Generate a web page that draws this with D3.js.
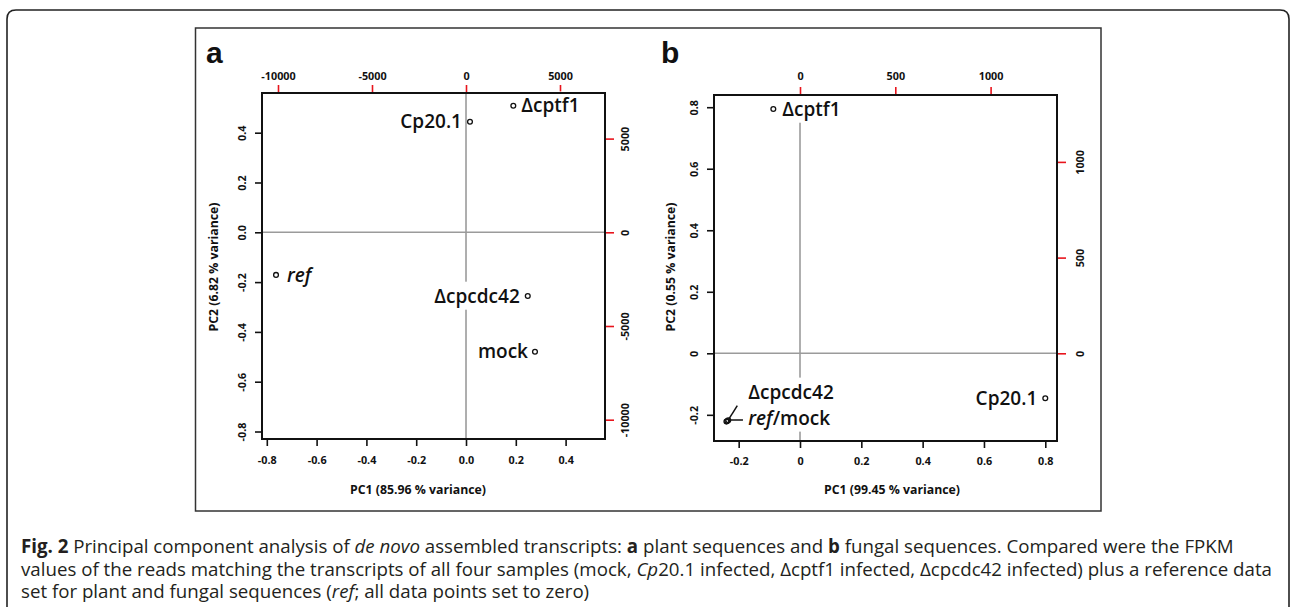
<!DOCTYPE html>
<html><head><meta charset="utf-8">
<script src="https://cdn.jsdelivr.net/npm/d3@7"></script>
<style>
body{margin:0;background:#fff}
svg{display:block}
.tick text{font-family:"Open Sans",sans-serif;font-weight:700;font-size:10.8px;fill:#111}
</style>
</head><body>
<svg id="c" width="1290" height="607"></svg>
<script>
// ---------- data ----------
const samplesA = ["Δcptf1", "Cp20.1", "ref", "Δcpcdc42", "mock"];
const pc1A = [0.190, 0.016, -0.763, 0.248, 0.277];
const pc2A = [0.508, 0.444, -0.171, -0.256, -0.480];

const samplesB = ["Δcptf1", "Cp20.1", "ref", "mock", "Δcpcdc42"];
const pc1B = [-0.087, 0.800, -0.240, -0.237, -0.234];
const pc2B = [0.794, -0.146, -0.222, -0.220, -0.218];

const xTicksA = [-0.8, -0.6, -0.4, -0.2, 0, 0.2, 0.4];
const xTickLabelsA = ["-0.8", "-0.6", "-0.4", "-0.2", "0.0", "0.2", "0.4"];
const yTicksA = [-0.8, -0.6, -0.4, -0.2, 0, 0.2, 0.4];
const yTickLabelsA = ["-0.8", "-0.6", "-0.4", "-0.2", "0.0", "0.2", "0.4"];
const topTicksA = [-10000, -5000, 0, 5000];
const rightTicksA = [-10000, -5000, 0, 5000];

const xTicksB = [-0.2, 0, 0.2, 0.4, 0.6, 0.8];
const xTickLabelsB = ["-0.2", "0", "0.2", "0.4", "0.6", "0.8"];
const yTicksB = [-0.2, 0, 0.2, 0.4, 0.6, 0.8];
const yTickLabelsB = ["-0.2", "0", "0.2", "0.4", "0.6", "0.8"];
const topTicksB = [0, 500, 1000];
const rightTicksB = [0, 500, 1000];

const xTitleA = "PC1 (85.96 % variance)";
const yTitleA = "PC2 (6.82 % variance)";
const xTitleB = "PC1 (99.45 % variance)";
const yTitleB = "PC2 (0.55 % variance)";

// ---------- layout ----------
const svg = d3.select("#c");
const RED = "#e8141c";
const LABEL_FONT = '"Open Sans", sans-serif';
const plainInt = d => String(d);

// outer rounded frame (open at bottom)
svg.append("path")
  .attr("d", "M7,612 L7,19 Q7,10 16,10 L1280,10 Q1289,10 1289,19 L1289,612")
  .attr("fill", "none").attr("stroke", "#222").attr("stroke-width", 1.6);

// figure box
svg.append("rect").attr("x", 195.5).attr("y", 28).attr("width", 905.5).attr("height", 483)
  .attr("fill", "#fff").attr("stroke", "#333").attr("stroke-width", 1.5);

function panel(cfg) {
  const g = svg.append("g");
  const x = d3.scaleLinear().domain(cfg.xDomain).range([cfg.left, cfg.right]);
  const y = d3.scaleLinear().domain(cfg.yDomain).range([cfg.bottom, cfg.top]);
  const xt = d3.scaleLinear().domain(cfg.topDomain).range([cfg.left, cfg.right]);
  const yr = d3.scaleLinear().domain(cfg.rightDomain).range([cfg.bottom, cfg.top]);

  // reference lines
  g.append("line").attr("x1", cfg.left).attr("x2", cfg.right).attr("y1", y(0)).attr("y2", y(0))
    .attr("stroke", "#9b9b9b").attr("stroke-width", 1.6);
  g.append("line").attr("x1", x(0)).attr("x2", x(0)).attr("y1", cfg.top).attr("y2", cfg.bottom)
    .attr("stroke", "#9b9b9b").attr("stroke-width", 1.6);

  // axes
  const bottom = g.append("g").attr("transform", `translate(0,${cfg.bottom})`)
    .call(d3.axisBottom(x).tickValues(cfg.xTicks).tickFormat((d, i) => cfg.xTickLabels[i]).tickSize(7).tickPadding(0));
  bottom.selectAll("text").attr("y", cfg.bottomLabelOff).attr("dy", "0.35em");
  const left = g.append("g").attr("transform", `translate(${cfg.left},0)`)
    .call(d3.axisLeft(y).tickValues(cfg.yTicks).tickFormat((d, i) => cfg.yTickLabels[i]).tickSize(7));
  left.selectAll("text").attr("transform", "rotate(-90)").attr("x", 0).attr("y", -cfg.leftLabelOff)
    .attr("dy", "0.35em").attr("text-anchor", "middle");
  const top = g.append("g").attr("transform", `translate(0,${cfg.top})`)
    .call(d3.axisTop(xt).tickValues(cfg.topTicks).tickFormat(plainInt).tickSize(8));
  top.selectAll("text").attr("y", -cfg.topLabelOff).attr("dy", "0.35em");
  const right = g.append("g").attr("transform", `translate(${cfg.right},0)`)
    .call(d3.axisRight(yr).tickValues(cfg.rightTicks).tickFormat(plainInt).tickSize(9));
  right.selectAll("text").attr("transform", "rotate(-90)").attr("x", 0).attr("y", cfg.rightLabelOff)
    .attr("dy", "0.35em").attr("text-anchor", "middle");
  [bottom, left, top, right].forEach(a => a.select(".domain").remove());
  [bottom, left].forEach(a => a.selectAll("line").attr("stroke", "#111").attr("stroke-width", 1.6));
  [top, right].forEach(a => a.selectAll("line").attr("stroke", RED).attr("stroke-width", 1.6));

  // plot box (raised to the top later)
  const box = g.append("rect").attr("x", cfg.left).attr("y", cfg.top)
    .attr("width", cfg.right - cfg.left).attr("height", cfg.bottom - cfg.top)
    .attr("fill", "none").attr("stroke", "#111").attr("stroke-width", 2);

  // titles
  g.append("text").attr("x", cfg.xTitlePos[0]).attr("y", cfg.xTitlePos[1]).attr("dy", "0.35em")
    .attr("text-anchor", "middle").attr("font-family", LABEL_FONT).attr("font-weight", 700)
    .attr("font-size", 12.3).attr("fill", "#111").text(cfg.xTitle);
  g.append("text").attr("transform", `translate(${cfg.yTitlePos[0]},${cfg.yTitlePos[1]}) rotate(-90)`)
    .attr("dy", "0.35em").attr("text-anchor", "middle").attr("font-family", LABEL_FONT)
    .attr("font-weight", 700).attr("font-size", 12.3).attr("fill", "#111").text(cfg.yTitle);

  g.append("text").attr("x", cfg.letterPos[0]).attr("y", cfg.letterPos[1])
    .attr("font-family", '"Liberation Sans", Arial, sans-serif').attr("font-weight", 700)
    .attr("font-size", 30).attr("fill", "#111").text(cfg.letter);

  return {g, x, y, box};
}

function pointLabel(p, lines, px, py, side, dx, dyLines) {
  const lg = p.g.append("g");
  const t = lg.append("text").attr("font-family", LABEL_FONT).attr("font-weight", 600)
    .attr("font-size", 19).attr("fill", "#111")
    .attr("text-anchor", side === "left" ? "end" : "start");
  lines.forEach((segs, li) => {
    const ts = t.append("tspan").attr("x", px + dx).attr("y", py + dyLines[li]).attr("dy", "0.35em");
    segs.forEach(s => {
      ts.append("tspan").attr("font-style", s.it ? "italic" : "normal").text(s.t);
    });
  });
  const b = t.node().getBBox();
  lg.insert("rect", "text").attr("x", b.x - 2).attr("y", b.y - 1).attr("width", b.width + 4)
    .attr("height", b.height + 2).attr("fill", "#fff");
}

// ---------- panel a ----------
const A = panel({
  left: 262, right: 605, top: 93, bottom: 439,
  xDomain: [-0.8193, 0.5582], yDomain: [-0.8301, 0.5594],
  topDomain: [-10851, 7394], rightDomain: [-11030, 7433],
  xTicks: xTicksA, xTickLabels: xTickLabelsA, yTicks: yTicksA, yTickLabels: yTickLabelsA,
  topTicks: topTicksA, rightTicks: rightTicksA,
  bottomLabelOff: 21.5, leftLabelOff: 20, topLabelOff: 17, rightLabelOff: 20,
  xTitle: xTitleA, yTitle: yTitleA, xTitlePos: [418, 490], yTitlePos: [213.5, 267],
  letter: "a", letterPos: [206, 63]
});
const sideA = ["right", "left", "right", "left", "left"];
const dxA = [8, -8, 11, -8, -7];
samplesA.forEach((s, i) => {
  const px = A.x(pc1A[i]), py = A.y(pc2A[i]);
  const segs = s === "ref" ? [{t: "ref", it: true}] : [{t: s}];
  pointLabel(A, [segs], px, py, sideA[i], dxA[i], [0]);
});
A.g.selectAll("circle.pt").data(samplesA).enter().append("circle").attr("class", "pt")
  .attr("cx", (d, i) => A.x(pc1A[i])).attr("cy", (d, i) => A.y(pc2A[i])).attr("r", 2.4)
  .attr("fill", "none").attr("stroke", "#111").attr("stroke-width", 1.3);
A.box.raise();

// ---------- panel b ----------
const B = panel({
  left: 714, right: 1057, top: 95, bottom: 441,
  xDomain: [-0.2805, 0.8382], yDomain: [-0.2851, 0.8397],
  topDomain: [-451.2, 1348.4], rightDomain: [-458.2, 1349.5],
  xTicks: xTicksB, xTickLabels: xTickLabelsB, yTicks: yTicksB, yTickLabels: yTickLabelsB,
  topTicks: topTicksB, rightTicks: rightTicksB,
  bottomLabelOff: 20, leftLabelOff: 19.5, topLabelOff: 18.3, rightLabelOff: 23,
  xTitle: xTitleB, yTitle: yTitleB, xTitlePos: [892, 490], yTitlePos: [670.5, 267],
  letter: "b", letterPos: [661, 63]
});
// single labels
pointLabel(B, [[{t: samplesB[0]}]], B.x(pc1B[0]), B.y(pc2B[0]), "right", 9, [0]);
pointLabel(B, [[{t: samplesB[1]}]], B.x(pc1B[1]), B.y(pc2B[1]), "left", -8, [0]);
// combined label for the overlapping points
const cx = B.x(pc1B[3]), cy = B.y(pc2B[3]);
pointLabel(B, [[{t: samplesB[4]}], [{t: samplesB[2], it: true}, {t: "/" + samplesB[3]}]],
  cx, cy, "right", 21, [-29, -3]);
// leader lines (data units)
const leaders = [[-0.2045, -0.170], [-0.186, -0.217]];
leaders.forEach(l => {
  B.g.append("line").attr("x1", cx + 1).attr("y1", cy - 1).attr("x2", B.x(l[0])).attr("y2", B.y(l[1]))
    .attr("stroke", "#111").attr("stroke-width", 1.5);
});
B.g.selectAll("circle.pt").data(samplesB).enter().append("circle").attr("class", "pt")
  .attr("cx", (d, i) => B.x(pc1B[i])).attr("cy", (d, i) => B.y(pc2B[i])).attr("r", 2.4)
  .attr("fill", "none").attr("stroke", "#111").attr("stroke-width", 1.3);
B.box.raise();

// ---------- caption ----------
const caption = [
  [{t: "Fig. 2", b: true}, {t: " Principal component analysis of "}, {t: "de novo", i: true},
   {t: " assembled transcripts: "}, {t: "a", b: true}, {t: " plant sequences and "}, {t: "b", b: true},
   {t: " fungal sequences. Compared were the FPKM"}],
  [{t: "values of the reads matching the transcripts of all four samples (mock, "}, {t: "Cp", i: true},
   {t: "20.1 infected, Δcptf1 infected, Δcpcdc42 infected) plus a reference data"}],
  [{t: "set for plant and fungal sequences ("}, {t: "ref", i: true}, {t: "; all data points set to zero)"}]
];
const capBase = [553, 575.5, 598];
caption.forEach((line, li) => {
  const t = svg.append("text").attr("x", 21).attr("y", capBase[li])
    .attr("font-family", LABEL_FONT).attr("font-size", 18.7).attr("fill", "#231f20");
  line.forEach(s => t.append("tspan").attr("font-weight", s.b ? 700 : 400)
    .attr("font-style", s.i ? "italic" : "normal").text(s.t));
});
</script>
</body></html>
